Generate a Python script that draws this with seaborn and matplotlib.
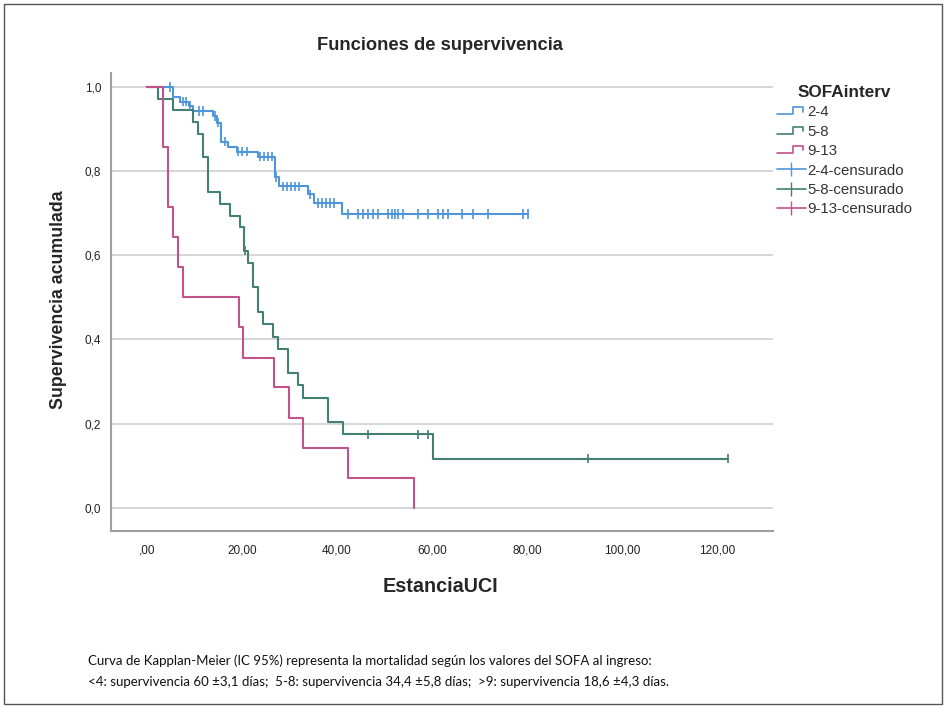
import numpy as np
import pandas as pd
import seaborn as sns
import matplotlib.pyplot as plt
from matplotlib.lines import Line2D
from matplotlib.patches import Rectangle
from matplotlib.legend_handler import HandlerBase

# grupos SOFA y colores
grupos = ["2-4", "5-8", "9-13"]
colores = ["#4f95dc", "#437f72", "#c2528a"]

# curvas de Kaplan-Meier (tiempo del escalon, supervivencia despues del escalon)
t_24 = [0, 5.5, 6.9, 8.8, 9.7, 13.9, 14.7, 15.6, 17.1, 18.9, 23.4, 26.9, 27.8, 33.9, 35.2, 41.0, 80.2]
s_24 = [1.0, 0.976, 0.965, 0.955, 0.943, 0.931, 0.915, 0.870, 0.857, 0.846, 0.834, 0.786, 0.764, 0.745, 0.724, 0.698, 0.698]
c_24 = [4.8, 7.5, 8.2, 9.0, 10.9, 11.7, 14.2, 15.0, 16.4, 19.2, 20.0, 21.0, 23.8, 24.6, 25.4, 26.3,
        27.2, 28.6, 29.5, 30.3, 31.2, 32.0, 34.4, 36.0, 36.8, 37.7, 38.6, 39.4,
        42.3, 44.4, 45.4, 46.5, 47.6, 48.6, 50.7, 51.6, 52.2, 52.8, 53.9, 57.1, 59.2,
        61.3, 62.3, 63.4, 66.3, 68.6, 71.8, 79.2, 80.2]

t_58 = [0, 2.3, 5.5, 9.7, 10.7, 11.8, 12.8, 15.4, 17.5, 19.6, 20.4, 21.3, 22.3, 23.4, 24.4, 26.5,
        27.6, 29.7, 31.8, 32.8, 38.1, 41.3, 60.2, 122.3]
s_58 = [1.0, 0.972, 0.944, 0.917, 0.889, 0.833, 0.75, 0.722, 0.694, 0.667, 0.611, 0.582, 0.525,
        0.466, 0.437, 0.407, 0.378, 0.320, 0.291, 0.262, 0.204, 0.175, 0.117, 0.117]
c_58 = [20.6, 46.5, 57.1, 59.2, 92.8, 122.3]

t_913 = [0, 3.4, 4.4, 5.5, 6.5, 7.6, 19.4, 20.2, 26.7, 29.9, 32.9, 42.3, 56.2]
s_913 = [1.0, 0.857, 0.714, 0.643, 0.571, 0.5, 0.429, 0.357, 0.286, 0.214, 0.143, 0.071, 0.0]
c_913 = []

x_ticks = [0, 20, 40, 60, 80, 100, 120]
x_labels = [",00", "20,00", "40,00", "60,00", "80,00", "100,00", "120,00"]
y_ticks = [0.0, 0.2, 0.4, 0.6, 0.8, 1.0]
y_labels = ["0,0", "0,2", "0,4", "0,6", "0,8", "1,0"]

nota = ("Curva de Kapplan-Meier (IC 95%) representa la mortalidad según los valores del SOFA al ingreso:\n"
        "<4: supervivencia 60 ±3,1 días;  5-8: supervivencia 34,4 ±5,8 días;  >9: supervivencia 18,6 ±4,3 días.")


def surv_at(t, ts, ss):
    i = np.searchsorted(ts, t, side="right") - 1
    return ss[i]


curvas = pd.concat([
    pd.DataFrame({"t": t, "s": s, "grupo": g})
    for t, s, g in [(t_24, s_24, "2-4"), (t_58, s_58, "5-8"), (t_913, s_913, "9-13")]
])
censuras = pd.concat([
    pd.DataFrame({"t": c, "s": [surv_at(x, t, s) for x in c], "grupo": g})
    for c, t, s, g in [(c_24, t_24, s_24, "2-4"), (c_58, t_58, s_58, "5-8"), (c_913, t_913, s_913, "9-13")]
])

sns.set_style("white")
plt.rcParams["font.family"] = ["Liberation Sans", "DejaVu Sans"]

# ejes: pixeles del original (izq 111, der 773, arriba 73, abajo 531)
fig = plt.figure(figsize=(9.47, 7.08), dpi=100)
ax = fig.add_axes([111 / 947, 1 - 531 / 708, (773 - 111) / 947, (531 - 73) / 708])

pal = dict(zip(grupos, colores))
sns.lineplot(data=curvas, x="t", y="s", hue="grupo", palette=pal, drawstyle="steps-post",
             estimator=None, sort=False, linewidth=1.5, legend=False, ax=ax)
sns.scatterplot(data=censuras, x="t", y="s", hue="grupo", palette=pal, marker="|",
                s=45, linewidth=1.2, legend=False, ax=ax, zorder=3)

ax.set_xlim(-7.6, 131.8)
ax.set_ylim(-0.055, 1.033)
ax.set_xticks(x_ticks)
ax.set_xticklabels(x_labels, fontsize=8.5, color="#222222")
ax.set_yticks(y_ticks)
ax.set_yticklabels(y_labels, fontsize=8.5, color="#222222")
ax.tick_params(axis="x", length=0, pad=10)
ax.tick_params(axis="y", length=0, pad=7)
ax.yaxis.grid(True, color="#cfcfcf", linewidth=1.2)
ax.xaxis.grid(False)
for lado in ["top", "right"]:
    ax.spines[lado].set_visible(False)
for lado in ["left", "bottom"]:
    ax.spines[lado].set_color("#a0a0a0")
    ax.spines[lado].set_linewidth(1.5)

ax.set_xlabel("EstanciaUCI", fontsize=14.2, fontweight="bold")
ax.xaxis.set_label_coords((440 - 111) / 662, -(577 - 531) / 458)
ax.set_ylabel("Supervivencia acumulada", fontsize=12.8, fontweight="bold")
ax.yaxis.set_label_coords(-(111 - 67) / 662, (531 - 300) / 458)
fig.text(440 / 947, 1 - 45 / 708, "Funciones de supervivencia", ha="center", va="center",
         fontsize=13.2, fontweight="bold")


class StepHandler(HandlerBase):
    def create_artists(self, legend, orig_handle, xdescent, ydescent, width, height, fontsize, trans):
        xs = np.array([0, 0.55, 0.55, 0.9, 0.9]) * width - xdescent
        ys = np.array([0.2, 0.2, 0.85, 0.85, 0.45]) * height - ydescent
        ln = Line2D(xs, ys, color=orig_handle.get_color(), linewidth=1.2, transform=trans)
        return [ln]


handles = [Line2D([], [], color=c) for c in colores]
handles += [Line2D([0], [0], color=c, linewidth=1.2, marker="|", markersize=10) for c in colores]
labels = grupos + [g + "-censurado" for g in grupos]
hmap = {h: StepHandler() for h in handles[:3]}
leg = fig.legend(handles, labels, handler_map=hmap, loc="upper left",
                 bbox_to_anchor=(771 / 947, 1 - 79 / 708), frameon=False, title="SOFAinterv",
                 fontsize=10.8, handlelength=1.9, handletextpad=0.1, labelspacing=0.36,
                 numpoints=1, borderaxespad=0)
leg.get_title().set_fontweight("bold")
leg.get_title().set_fontsize(12.3)
for txt in leg.get_texts():
    txt.set_color("#333333")

fig.text(88 / 947, 1 - 671 / 708, nota, ha="left", va="center", fontsize=9.5,
         family=["Lato", "DejaVu Sans"], linespacing=1.85, color="#111111")

fig.patches.append(Rectangle((4 / 947, 4 / 708), 938 / 947, 700 / 708, transform=fig.transFigure,
                             fill=False, edgecolor="#555555", linewidth=1.0))

fig.savefig("out.png", dpi=100)
